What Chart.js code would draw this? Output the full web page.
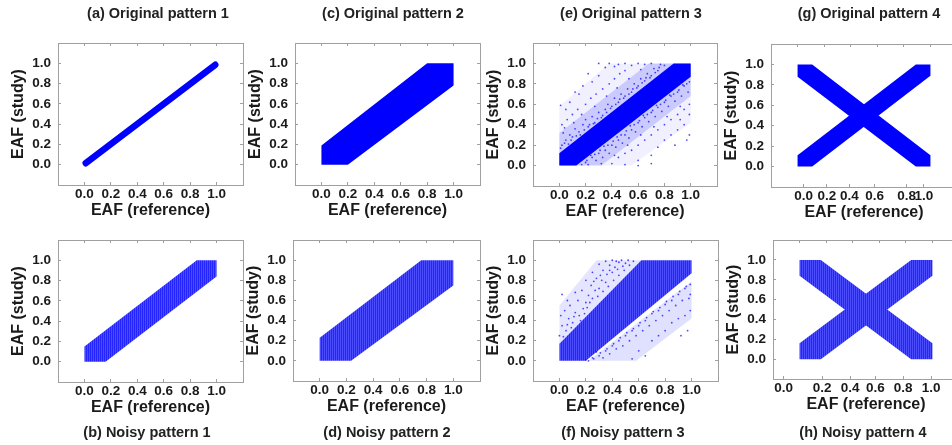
<!DOCTYPE html>
<html>
<head>
<meta charset="utf-8">
<script src="https://cdn.jsdelivr.net/npm/chart.js@4.4.1/dist/chart.umd.min.js"></script>
<style>
  body { margin: 0; width: 952px; height: 445px; overflow: hidden; background: #fff; position: relative; }
  canvas { position: absolute; }
  .cap { position: absolute; font-family: "Liberation Sans", Arial, sans-serif; font-weight: bold; font-size: 14.5px;
         color: #222; white-space: nowrap; transform: translate(-50%, -50%); }
</style>
</head>
<body>
<script>
// axis ticks shared by every panel
const tickValues = [0, 0.2, 0.4, 0.6, 0.8, 1.0];
const tickLabels = ['0.0', '0.2', '0.4', '0.6', '0.8', '1.0'];
// pattern 4 x labels sit a little off the grid
const tickSpots4Orig = [0.045, 0.22, 0.39, 0.58, 0.82, 0.95];
const tickSpots4Noisy = [-0.12, 0.17, 0.38, 0.57, 0.78, 0.99];

// pattern 1: allele frequencies on the diagonal
const diag1OrigX = [0.01, 0.99];
const diag1OrigY = [0.015, 0.985];
const band1NoisyX = [0, 0.16, 1, 1, 0.85, 0];
const band1NoisyY = [0, 0, 0.84, 1, 1, 0.15];

// pattern 2: wider diagonal band
const band2OrigX = [0, 0.2, 1, 1, 0.8, 0];
const band2OrigY = [0, 0, 0.78, 1, 1, 0.19];
const band2NoisyX = [0, 0.235, 1, 1, 0.76, 0];
const band2NoisyY = [0, 0, 0.75, 1, 1, 0.23];

// pattern 3: diagonal band plus scattered outliers
const band3OrigX = [0, 0.13, 1, 1, 0.87, 0];
const band3OrigY = [0, 0, 0.87, 1, 1, 0.12];
const nearHaze3OrigX = [0, 0.32, 1, 1, 0.68, 0];
const nearHaze3OrigY = [0, 0, 0.68, 1, 1, 0.32];
const farHaze3OrigX = [0, 0.55, 1, 1, 0.38, 0];
const farHaze3OrigY = [0, 0, 0.42, 1, 1, 0.58];
const outliers3Orig = [
  [0.02, 0.2], [0.05, 0.25], [0.08, 0.3], [0.03, 0.32], [0.1, 0.28], [0.12, 0.36], [0.15, 0.33], [0.18, 0.4],
  [0.2, 0.45], [0.22, 0.38], [0.25, 0.48], [0.27, 0.42], [0.3, 0.52], [0.32, 0.47], [0.35, 0.55], [0.37, 0.6],
  [0.4, 0.58], [0.42, 0.66], [0.45, 0.62], [0.47, 0.7], [0.5, 0.68], [0.52, 0.75], [0.55, 0.72], [0.57, 0.8],
  [0.6, 0.78], [0.62, 0.85], [0.65, 0.83], [0.67, 0.9], [0.7, 0.88], [0.72, 0.95], [0.75, 0.93], [0.77, 0.99],
  [0.8, 0.98], [0.02, 0.4], [0.06, 0.45], [0.1, 0.5], [0.14, 0.55], [0.2, 0.6], [0.24, 0.66], [0.28, 0.7],
  [0.33, 0.75], [0.38, 0.8], [0.42, 0.85], [0.46, 0.9], [0.5, 0.93], [0.55, 0.98], [0.6, 1.0], [0.65, 0.99],
  [0.7, 1.0], [0.45, 0.99], [0.5, 1.0], [0.01, 0.59], [0.05, 0.55], [0.08, 0.62], [0.15, 0.7], [0.18, 0.78],
  [0.25, 0.82], [0.3, 0.88], [0.35, 0.96], [0.38, 1.0], [0.3, 1.0], [0.22, 0.9], [0.12, 0.72], [0.42, 0.97],
  [0.01, 0.17], [0.04, 0.22], [0.07, 0.21], [0.09, 0.25], [0.13, 0.29], [0.16, 0.3], [0.19, 0.35], [0.23, 0.4],
  [0.26, 0.41], [0.29, 0.46], [0.33, 0.49], [0.36, 0.52], [0.39, 0.56], [0.43, 0.6], [0.46, 0.65], [0.49, 0.66],
  [0.53, 0.7], [0.56, 0.75], [0.59, 0.76], [0.63, 0.81], [0.66, 0.86], [0.69, 0.86], [0.73, 0.91], [0.76, 0.96],
  [0.04, 0.37], [0.11, 0.42], [0.17, 0.5], [0.27, 0.58], [0.36, 0.68], [0.44, 0.76], [0.53, 0.85], [0.62, 0.94],
  [0.2, 0.03], [0.25, 0.08], [0.22, 0.01], [0.3, 0.12], [0.28, 0.05], [0.35, 0.15], [0.33, 0.08], [0.4, 0.2],
  [0.38, 0.12], [0.45, 0.25], [0.43, 0.18], [0.5, 0.3], [0.48, 0.22], [0.55, 0.35], [0.53, 0.27], [0.6, 0.42],
  [0.58, 0.33], [0.65, 0.47], [0.63, 0.38], [0.7, 0.52], [0.68, 0.43], [0.75, 0.57], [0.73, 0.48], [0.8, 0.62],
  [0.78, 0.53], [0.85, 0.68], [0.83, 0.58], [0.9, 0.72], [0.88, 0.63], [0.95, 0.78], [0.93, 0.68], [0.99, 0.82],
  [0.98, 0.72], [0.4, 0.02], [0.45, 0.08], [0.5, 0.12], [0.55, 0.15], [0.6, 0.2], [0.65, 0.25], [0.7, 0.3],
  [0.75, 0.35], [0.8, 0.4], [0.85, 0.45], [0.9, 0.5], [0.95, 0.55], [0.99, 0.6], [0.5, 0.01], [0.6, 0.05],
  [0.99, 0.5], [0.6, 0.0], [0.7, 0.1], [0.75, 0.18], [0.8, 0.25], [0.85, 0.3], [0.9, 0.35], [0.95, 0.4],
  [0.99, 0.3], [0.97, 0.25], [0.88, 0.2], [0.7, 0.02], [0.92, 0.45],
  [0.17, 0.01], [0.21, 0.05], [0.24, 0.1], [0.27, 0.11], [0.31, 0.15], [0.34, 0.19], [0.37, 0.2], [0.41, 0.24],
  [0.44, 0.28], [0.47, 0.3], [0.51, 0.34], [0.54, 0.39], [0.57, 0.4], [0.61, 0.44], [0.64, 0.49], [0.67, 0.5],
  [0.71, 0.54], [0.74, 0.59], [0.77, 0.6], [0.81, 0.64], [0.84, 0.69], [0.87, 0.7], [0.91, 0.74], [0.94, 0.79],
  [0.97, 0.8], [0.32, 0.02], [0.42, 0.1], [0.52, 0.2], [0.62, 0.3], [0.72, 0.38], [0.82, 0.48], [0.92, 0.58]
];
const band3NoisyX = [0, 0.2, 1, 1, 0.62, 0];
const band3NoisyY = [0, 0, 0.87, 1, 1, 0.17];
const upperHaze3NoisyX = [0, 0.62, 0.28, 0];
const upperHaze3NoisyY = [0.17, 1, 1, 0.55];
const lowerHaze3NoisyX = [0.22, 0.58, 1, 1];
const lowerHaze3NoisyY = [0, 0, 0.42, 0.79];
const outliers3Noisy = [
  [0.0, 0.25], [0.02, 0.35], [0.05, 0.3], [0.01, 0.45], [0.04, 0.5], [0.02, 0.66], [0.07, 0.42], [0.1, 0.38],
  [0.12, 0.48], [0.08, 0.55], [0.15, 0.45], [0.14, 0.6], [0.18, 0.52], [0.2, 0.58], [0.17, 0.7], [0.22, 0.65],
  [0.25, 0.62], [0.24, 0.75], [0.27, 0.7], [0.3, 0.72], [0.28, 0.82], [0.32, 0.8], [0.35, 0.78], [0.33, 0.9],
  [0.36, 0.86], [0.38, 0.95], [0.4, 0.88], [0.42, 0.93], [0.45, 0.98], [0.44, 0.91], [0.47, 1.0], [0.5, 0.97],
  [0.52, 1.0], [0.4, 1.0], [0.35, 0.99], [0.3, 0.96], [0.25, 0.88], [0.2, 0.8], [0.12, 0.68], [0.06, 0.6],
  [0.48, 0.94], [0.43, 0.99], [0.38, 0.9], [0.31, 0.85], [0.26, 0.79],
  [0.03, 0.24], [0.06, 0.36], [0.09, 0.33], [0.11, 0.44], [0.16, 0.4], [0.19, 0.47], [0.21, 0.53], [0.23, 0.58],
  [0.29, 0.64], [0.33, 0.69], [0.37, 0.74], [0.41, 0.8], [0.45, 0.85], [0.49, 0.9], [0.53, 0.95], [0.56, 0.99],
  [0.2, 0.01], [0.25, 0.03], [0.22, 0.0], [0.3, 0.05], [0.28, 0.09], [0.35, 0.1], [0.33, 0.03], [0.4, 0.15],
  [0.38, 0.07], [0.45, 0.2], [0.43, 0.12], [0.5, 0.25], [0.48, 0.15], [0.55, 0.3], [0.53, 0.2], [0.6, 0.35],
  [0.58, 0.25], [0.65, 0.4], [0.63, 0.3], [0.7, 0.47], [0.68, 0.35], [0.75, 0.5], [0.73, 0.4], [0.8, 0.56],
  [0.78, 0.45], [0.85, 0.6], [0.83, 0.5], [0.9, 0.66], [0.88, 0.55], [0.95, 0.72], [0.93, 0.6], [0.99, 0.76],
  [0.98, 0.62], [0.55, 0.02], [0.6, 0.1], [0.7, 0.2], [0.75, 0.25], [0.8, 0.3], [0.85, 0.38], [0.9, 0.42],
  [0.95, 0.45], [0.99, 0.5], [0.97, 0.3], [0.92, 0.25], [0.65, 0.05],
  [0.26, 0.02], [0.31, 0.08], [0.36, 0.12], [0.41, 0.17], [0.46, 0.23], [0.51, 0.28], [0.56, 0.32], [0.61, 0.38],
  [0.66, 0.43], [0.71, 0.49], [0.76, 0.53], [0.81, 0.59], [0.86, 0.64], [0.91, 0.69], [0.96, 0.74], [0.99, 0.66]
];

// pattern 4: two crossing bands
const cross4OrigDiagX = [0, 0.11, 1, 1, 0.89, 0];
const cross4OrigDiagY = [0, 0, 0.89, 1, 1, 0.11];
const cross4OrigAntiX = [0, 0, 0.89, 1, 1, 0.11];
const cross4OrigAntiY = [1, 0.88, 0, 0, 0.11, 1];
const cross4NoisyDiagX = [0, 0.16, 1, 1, 0.84, 0];
const cross4NoisyDiagY = [0, 0, 0.84, 1, 1, 0.16];
const cross4NoisyAntiX = [0, 0, 0.84, 1, 1, 0.16];
const cross4NoisyAntiY = [1, 0.84, 0, 0, 0.16, 1];

const FONT = '"Liberation Sans", Arial, sans-serif';
const BLUE = '#0000ff';
const GREY = '#a0a0a0';
const INK = '#1a1a1a';

// dense grid of noisy points shows up as fine vertical stripes
function stripes() {
  const c = document.createElement('canvas');
  c.width = 2; c.height = 2;
  const g = c.getContext('2d');
  g.fillStyle = '#2424ff'; g.fillRect(0, 0, 2, 2);
  g.fillStyle = '#4c4cff'; g.fillRect(1, 0, 1, 2);
  return g.createPattern(c, 'repeat');
}
const STRIPES = stripes();

function shape(xs, ys, fill, order) {
  return {
    data: xs.map((x, i) => ({ x, y: ys[i] })),
    showLine: true, fill: 'shape', backgroundColor: fill,
    borderColor: 'rgba(0,0,0,0)', borderWidth: 0, pointRadius: 0, order
  };
}
function dots(pts) {
  return {
    data: pts.map(([x, y]) => ({ x, y })),
    pointRadius: 0.9, backgroundColor: 'rgba(0,0,255,0.7)', borderWidth: 0, order: 0
  };
}

function axis(dir, position, title, spots) {
  return {
    type: 'linear', axis: dir, position, min: -0.2, max: 1.2,
    afterBuildTicks: s => { s.ticks = (spots || tickValues).map(v => ({ value: v })); },
    afterFit: s => { if (dir === 'x') s.height = 40; else s.width = 58; },
    grid: { drawOnChartArea: false, drawTicks: true, tickLength: -3, tickColor: GREY },
    border: { display: true, color: GREY, width: 1 },
    ticks: {
      callback: (v, i) => tickLabels[i], color: INK, autoSkip: false, maxRotation: 0,
      font: { family: FONT, size: 13.5, weight: 'bold' }, padding: dir === 'x' ? 4 : 10
    },
    title: {
      display: true, text: title, color: INK,
      font: { family: FONT, size: 16, weight: 'bold' },
      padding: dir === 'x' ? { top: 0, bottom: 5 } : { top: 9, bottom: 0 }
    }
  };
}
function frame(dir, position) {
  return {
    type: 'linear', axis: dir, position, min: -0.2, max: 1.2,
    afterBuildTicks: s => { s.ticks = tickValues.map(v => ({ value: v })); },
    afterFit: s => { if (dir === 'x') s.height = 0; else s.width = 0; },
    grid: { drawOnChartArea: false, drawTicks: true, tickLength: -3, tickColor: GREY },
    border: { display: true, color: GREY, width: 1 },
    ticks: { display: false }
  };
}

function panel(box, row, caption, capPos, datasets, xSpots) {
  const [L, T, R, B] = box;
  const top = row ? 222 : 0, h = row ? 223 : 222;
  const cv = document.createElement('canvas');
  cv.width = R - L + 60; cv.height = h;
  cv.style.left = (L - 58) + 'px'; cv.style.top = top + 'px';
  document.body.appendChild(cv);
  new Chart(cv, {
    type: 'scatter',
    data: { datasets },
    options: {
      responsive: false, animation: false, devicePixelRatio: 1,
      layout: { padding: { left: 0, top: T - top, right: 2, bottom: top + h - B - 40 } },
      plugins: { legend: { display: false }, tooltip: { enabled: false } },
      scales: {
        x: axis('x', 'bottom', 'EAF (reference)', xSpots),
        y: axis('y', 'left', 'EAF (study)'),
        x2: frame('x', 'top'),
        y2: frame('y', 'right')
      }
    }
  });
  const d = document.createElement('div');
  d.className = 'cap'; d.textContent = caption;
  d.style.left = capPos[0] + 'px'; d.style.top = capPos[1] + 'px';
  document.body.appendChild(d);
}

panel([58, 43, 243, 185], 0, '(a) Original pattern 1', [158, 13], [{
  data: diag1OrigX.map((x, i) => ({ x, y: diag1OrigY[i] })),
  showLine: true, borderColor: BLUE, borderWidth: 6.5, borderCapStyle: 'round', pointRadius: 0, fill: false
}]);
panel([295, 43, 480, 185], 0, '(c) Original pattern 2', [393, 13], [
  shape(band2OrigX, band2OrigY, BLUE, 1)
]);
panel([533, 43, 719, 186], 0, '(e) Original pattern 3', [631, 13], [
  dots(outliers3Orig),
  shape(band3OrigX, band3OrigY, BLUE, 1),
  shape(nearHaze3OrigX, nearHaze3OrigY, 'rgba(0,0,255,0.16)', 2),
  shape(farHaze3OrigX, farHaze3OrigY, 'rgba(0,0,255,0.06)', 3)
]);
panel([771, 44, 957, 187], 0, '(g) Original pattern 4', [869, 13], [
  shape(cross4OrigDiagX, cross4OrigDiagY, BLUE, 1),
  shape(cross4OrigAntiX, cross4OrigAntiY, BLUE, 1)
], tickSpots4Orig);

panel([58, 239, 243, 382], 1, '(b) Noisy pattern 1', [147, 432], [
  shape(band1NoisyX, band1NoisyY, STRIPES, 1)
]);
panel([293, 236, 480, 381], 1, '(d) Noisy pattern 2', [387, 432], [
  shape(band2NoisyX, band2NoisyY, STRIPES, 1)
]);
panel([533, 236, 720, 381], 1, '(f) Noisy pattern 3', [623, 432], [
  dots(outliers3Noisy),
  shape(band3NoisyX, band3NoisyY, STRIPES, 1),
  shape(upperHaze3NoisyX, upperHaze3NoisyY, 'rgba(0,0,255,0.1)', 2),
  shape(lowerHaze3NoisyX, lowerHaze3NoisyY, 'rgba(0,0,255,0.12)', 2)
]);
panel([773, 236, 959, 379], 1, '(h) Noisy pattern 4', [863, 432], [
  shape(cross4NoisyDiagX, cross4NoisyDiagY, STRIPES, 1),
  shape(cross4NoisyAntiX, cross4NoisyAntiY, STRIPES, 1)
], tickSpots4Noisy);
</script>
</body>
</html>
